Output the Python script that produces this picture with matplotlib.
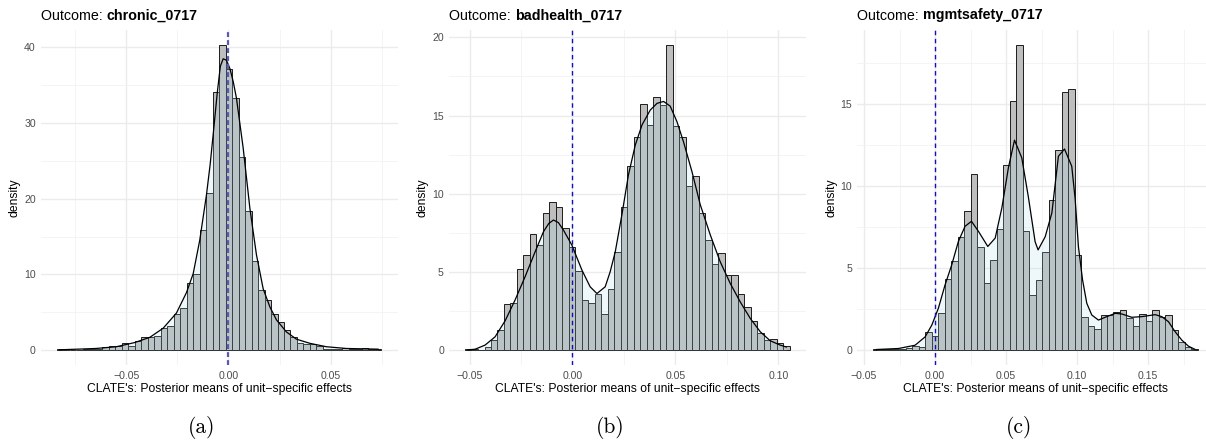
import numpy as np
import matplotlib
matplotlib.use("Agg")
import matplotlib.pyplot as plt
from matplotlib.ticker import MultipleLocator, FuncFormatter

plt.rcParams["font.family"] = ["Liberation Sans", "DejaVu Sans"]

OUTCOMES = ["chronic_0717", "badhealth_0717", "mgmtsafety_0717"]
CAPTIONS = ["(a)", "(b)", "(c)"]
XLABEL = "CLATE's: Posterior means of unit\u2212specific effects"

# (a) chronic_0717: histogram range (outer bar edges), 50 bar densities, density curve
RANGE_A = (-0.0841, 0.0749)
HIST_A = [0.1, 0.05, 0.02, 0.05, 0.2, 0.1, 0.15, 0.4, 0.5, 0.5,
          0.9, 0.5, 1.2, 1.7, 1.7, 1.9, 2.9, 3.2, 4.8, 5.6,
          8.9, 10.1, 15.9, 20.8, 34.1, 40.3, 37.2, 33.3, 25.5, 18.4,
          11.8, 7.9, 6.6, 4.8, 3.7, 2.6, 1.8, 1.0, 0.8, 0.8,
          0.5, 0.2, 0.2, 0.2, 0.3, 0.2, 0.15, 0.3, 0.1, 0.15]
DENS_X_A = [-0.0826, -0.075, -0.065, -0.055, -0.046, -0.0385, -0.032, -0.0255, -0.0206,
            -0.0173, -0.0141, -0.0108, -0.009, -0.0075, -0.0055, -0.004, -0.0026, -0.001,
            0.0007, 0.0023, 0.0039, 0.0072, 0.0105, 0.0137, 0.017, 0.0203, 0.0235, 0.0284,
            0.0333, 0.0399, 0.048, 0.0578, 0.0733]
DENS_Y_A = [0.05, 0.12, 0.22, 0.45, 1.0, 1.7, 2.9, 4.9, 7.6,
            10.1, 14.5, 20.5, 24.5, 28.5, 34.0, 37.5, 38.5, 38.3,
            37.2, 35.5, 33.3, 26.7, 18.7, 12.6, 8.1, 5.7, 4.0, 2.4,
            1.45, 0.9, 0.45, 0.22, 0.13]

# (b) badhealth_0717
RANGE_B = (-0.0522, 0.1055)
HIST_B = [0.05, 0.05, 0.03, 0.17, 0.68, 1.32, 2.94, 3.03, 5.16, 6.06,
          7.4, 6.7, 8.74, 9.45, 9.17, 7.83, 6.59, 5.07, 3.2, 3.03,
          3.58, 2.3, 3.88, 6.25, 9.17, 11.77, 13.65, 15.71, 14.39, 16.16,
          15.67, 19.5, 14.35, 13.65, 10.5, 11.13, 8.8, 7.04, 5.52, 6.23,
          4.8, 4.8, 3.56, 2.73, 1.86, 1.07, 0.64, 0.7, 0.43, 0.26]
DENS_X_B = [-0.0506, -0.0473, -0.0425, -0.0376, -0.0327, -0.0279, -0.023, -0.0181, -0.0141,
            -0.0115, -0.0092, -0.0068, -0.0044, -0.0003, 0.0046, 0.0086, 0.0119, 0.0159,
            0.0183, 0.0208, 0.024, 0.0272, 0.0305, 0.0338, 0.0378, 0.0411, 0.0443, 0.0475,
            0.0508, 0.054, 0.0581, 0.0621, 0.067, 0.0718, 0.0767, 0.0815, 0.0864, 0.0913,
            0.0961, 0.101, 0.1039]
DENS_Y_B = [0.02, 0.06, 0.32, 0.85, 1.88, 3.2, 4.7, 6.3, 7.57,
            8.1, 8.32, 8.15, 7.68, 6.72, 5.12, 4.05, 3.62, 4.05,
            5.0, 6.29, 8.64, 11.2, 13.1, 14.4, 15.35, 15.78, 15.9, 15.6,
            14.6, 13.3, 11.4, 9.3, 7.36, 5.65, 4.26, 3.09, 2.03, 1.17,
            0.6, 0.32, 0.2]

# (c) mgmtsafety_0717
RANGE_C = (-0.0435, 0.1850)
HIST_C = [0.04, 0.04, 0.06, 0.1, 0.1, 0.16, 0.24, 0.2, 1.08, 0.84,
          2.27, 4.32, 5.43, 6.88, 8.45, 10.73, 6.29, 4.06, 5.46, 7.37,
          11.26, 15.17, 18.56, 7.27, 3.36, 4.26, 6.0, 9.16, 12.2, 15.7,
          15.9, 5.76, 2.02, 1.46, 1.26, 2.14, 2.14, 2.35, 2.44, 1.96,
          1.45, 2.19, 1.78, 2.44, 2.02, 2.13, 1.24, 0.51, 0.18, 0.1]
DENS_X_C = [-0.0412, -0.0258, -0.0141, -0.007, -0.0023, 0.0023, 0.007, 0.0117, 0.0164,
            0.0211, 0.0256, 0.0305, 0.0371, 0.0423, 0.047, 0.0516, 0.0559, 0.061,
            0.0657, 0.0704, 0.0725, 0.0775, 0.0822, 0.0868, 0.0911, 0.0962, 0.0986,
            0.1009, 0.1038, 0.1068, 0.1103, 0.115, 0.1197, 0.1268, 0.1315, 0.1385,
            0.1456, 0.1549, 0.1596, 0.1643, 0.169, 0.1737, 0.1784, 0.1827]
DENS_Y_C = [0.04, 0.1, 0.3, 0.81, 1.53, 2.55, 3.97, 5.19, 6.62,
            7.54, 7.84, 7.23, 6.31, 6.82, 8.66, 11.1, 12.78, 11.71,
            9.3, 6.6, 6.1, 6.9, 8.35, 11.8, 12.24, 11.19, 9.2,
            6.3, 4.28, 2.85, 2.14, 1.83, 2.0, 2.24, 2.2, 2.0,
            2.04, 2.16, 2.04, 1.73, 1.12, 0.61, 0.24, 0.06]

Y_MAJOR = [10, 5, 5]
VLINE_STYLE = [dict(color="#5858b8", lw=1.6, dashes=(2.2, 1.4)),
               dict(color="#1010c0", lw=1.0, dashes=(3.2, 2.6)),
               dict(color="#1010c0", lw=1.0, dashes=(3.2, 2.6))]

W, H = 1206, 444
PANEL_LEFT = [40.6, 448.8, 857.1]
PANEL_TOP, PANEL_W, PANEL_H = 29.9, 357.0, 335.5


def minus_fmt(v, _):
    return f"{v:.2f}".replace("-", "\u2212")


def draw_panel(ax, rng, hist, dx, dy, ymajor, vstyle):
    edges = np.linspace(rng[0], rng[1], len(hist) + 1)
    width = edges[1] - edges[0]
    ax.bar(edges[:-1], hist, width=width, align="edge", color="#bebebe",
           edgecolor="#1c1c1c", linewidth=0.7, zorder=2)
    ax.fill_between(dx, dy, color="#add8e6", alpha=0.2, linewidth=0, zorder=3)
    ax.plot(dx, dy, color="black", lw=0.9, zorder=4)
    ax.axvline(0, zorder=5, **vstyle)

    span = rng[1] - rng[0]
    ax.set_xlim(rng[0] - 0.05 * span, rng[1] + 0.05 * span)
    top = max(max(hist), max(dy))
    ax.set_ylim(-0.05 * top, 1.05 * top)

    ax.xaxis.set_major_locator(MultipleLocator(0.05))
    ax.xaxis.set_minor_locator(MultipleLocator(0.025))
    ax.xaxis.set_major_formatter(FuncFormatter(minus_fmt))
    ax.yaxis.set_major_locator(MultipleLocator(ymajor))
    ax.yaxis.set_minor_locator(MultipleLocator(ymajor / 2))
    ax.yaxis.set_major_formatter(FuncFormatter(lambda v, _: f"{v:g}"))

    ax.grid(which="major", color="#ebebeb", lw=1.0)
    ax.grid(which="minor", color="#f2f2f2", lw=0.6)
    ax.set_axisbelow(True)
    for s in ax.spines.values():
        s.set_visible(False)
    ax.tick_params(which="both", length=0, labelsize=7.6, labelcolor="#4d4d4d")
    ax.tick_params(axis="x", pad=4.0)
    ax.tick_params(axis="y", pad=3.5)
    ax.set_xlabel(XLABEL, fontsize=8.7, labelpad=1.5)
    ax.set_ylabel("density", fontsize=8.7, labelpad=2.5)


fig = plt.figure(figsize=(W / 100, H / 100), dpi=100)
panels = [(RANGE_A, HIST_A, DENS_X_A, DENS_Y_A),
          (RANGE_B, HIST_B, DENS_X_B, DENS_Y_B),
          (RANGE_C, HIST_C, DENS_X_C, DENS_Y_C)]

for i, (rng, hist, dx, dy) in enumerate(panels):
    left = PANEL_LEFT[i]
    ax = fig.add_axes([left / W, 1 - (PANEL_TOP + PANEL_H) / H, PANEL_W / W, PANEL_H / H])
    draw_panel(ax, rng, hist, dx, dy, Y_MAJOR[i], VLINE_STYLE[i])

    t = fig.text(left / W, 1 - 19.5 / H, "Outcome: ", fontsize=10.3, va="baseline")
    ax.annotate(OUTCOMES[i], xy=(1, 0), xycoords=t, fontsize=10.3, fontweight="bold",
                va="bottom", ha="left", annotation_clip=False)
    fig.text((left + PANEL_W / 2 - 17) / W, 1 - 427 / H, CAPTIONS[i], family="cmr10",
             fontsize=15.5, ha="center", va="center")

fig.savefig("out.png", dpi=100)
